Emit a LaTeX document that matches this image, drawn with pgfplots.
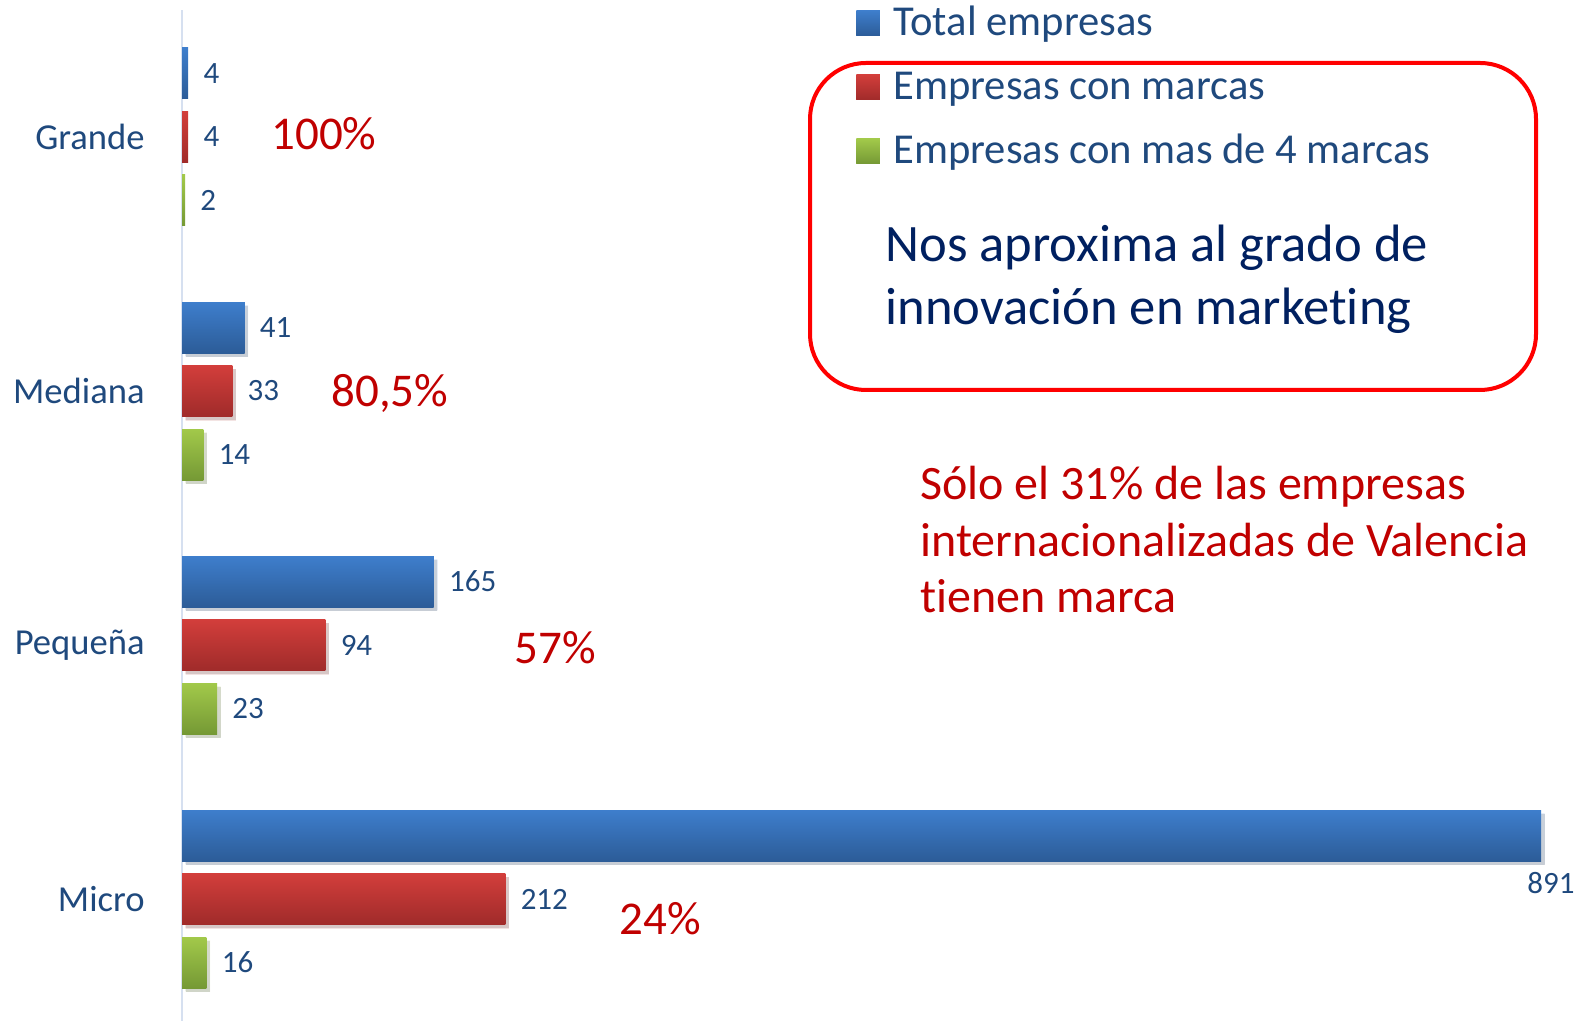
\documentclass[border=0pt]{standalone}
\usepackage{fontspec}
\setmainfont{Carlito}[Ligatures={NoCommon}]
\usepackage{pgfplots}
\pgfplotsset{compat=1.18}
\definecolor{bluetop}{RGB}{62,126,204}
\definecolor{bluebot}{RGB}{44,92,152}
\definecolor{redtop}{RGB}{210,62,59}
\definecolor{redbot}{RGB}{160,43,42}
\definecolor{greentop}{RGB}{162,201,74}
\definecolor{greenbot}{RGB}{117,153,53}
\definecolor{lblue}{RGB}{31,73,125}
\definecolor{dred}{RGB}{192,0,0}
\definecolor{navy}{RGB}{0,32,96}
\definecolor{axl}{RGB}{214,224,240}
\pgfplotsset{
  sh/.style={preaction={draw=none, fill=black, fill opacity=0.13, transform canvas={xshift=1.8pt, yshift=-1.8pt}}},
  bl/.style={draw=none, fill=bluetop, top color=bluetop, bottom color=bluebot, bar shift=31.75pt},
  rd/.style={draw=none, fill=redtop, top color=redtop, bottom color=redbot, bar shift=0pt},
  gr/.style={draw=none, fill=greentop, top color=greentop, bottom color=greenbot, bar shift=-31.75pt},
}
\begin{document}
\begin{tikzpicture}
\path[use as bounding box] (0,0) rectangle (796.5pt,510.5pt);
\begin{axis}[
  at={(91pt,0pt)}, anchor=south west,
  scale only axis, width=679.5pt, height=505.5pt,
  xbar, xmin=0, xmax=891, ymin=-0.48, ymax=3.5,
  bar width=25.5pt,
  axis x line=none, axis y line*=left,
  y axis line style={draw=axl, line width=1pt},
  ytick={0,1,2,3}, yticklabels={Micro,Pequeña,Mediana,Grande},
  major tick length=0pt, xtick=\empty,
  /pgf/number format/assume math mode=true,
  yticklabel style={font=\fontsize{18.3}{22}\selectfont, text=lblue, inner sep=0pt, xshift=-18.5pt},
  clip=false,
  nodes near coords,
  every node near coord/.append style={font=\fontsize{15.5}{18}\selectfont, text=lblue, anchor=west, inner sep=0pt, xshift=7.5pt},
  legend style={at={(0.496,0.9209)}, anchor=west, draw=none, fill=none, inner sep=0pt,
    font=\fontsize{21.3}{25}\selectfont, text=lblue, row sep=13.5pt,
    nodes={inner sep=0pt, text height=14pt, text depth=4.5pt}},
  legend cell align=left,
  legend image code/.code={\fill[draw=none, #1] (0pt,-4.9pt) rectangle (11.7pt,7.6pt); \path (18.5pt,0pt);},
]
% Grande (legend entries)
\addplot[bl] coordinates {(4,3)};
\addlegendentry{Total empresas}
\addplot[rd] coordinates {(4,3)};
\addlegendentry{Empresas con marcas}
\addplot[gr] coordinates {(2,3)};
\addlegendentry{Empresas con mas de 4 marcas}
% Mediana
\addplot[bl, sh, forget plot] coordinates {(41,2)};
\addplot[rd, sh, forget plot] coordinates {(33,2)};
\addplot[gr, sh, forget plot] coordinates {(14,2)};
% Pequeña
\addplot[bl, sh, forget plot] coordinates {(165,1)};
\addplot[rd, sh, forget plot] coordinates {(94,1)};
\addplot[gr, sh, forget plot] coordinates {(23,1)};
% Micro
\addplot[bl, sh, forget plot,
  every node near coord/.append style={anchor=north, xshift=-2.5pt, yshift=-18pt}]
  coordinates {(891,0)};
\addplot[rd, sh, forget plot] coordinates {(212,0)};
\addplot[gr, sh, forget plot] coordinates {(16,0)};
\end{axis}
\draw[draw=red, line width=2pt, rounded corners=28pt] (405pt,315.5pt) rectangle (768pt,479pt);
\begin{scope}[every node/.style={inner sep=0pt, anchor=base west}]
\node[font=\fontsize{26.3}{31}\selectfont, text=navy] at (442.5pt,379.5pt) {Nos aproxima al grado de};
\node[font=\fontsize{26.3}{31}\selectfont, text=navy] at (442.5pt,348pt) {innovación en marketing};
\node[font=\fontsize{24}{28}\selectfont, text=dred] at (460pt,260.5pt) {Sólo el 31\% de las empresas};
\node[font=\fontsize{24}{28}\selectfont, text=dred] at (460pt,232pt) {internacionalizadas de Valencia};
\node[font=\fontsize{24}{28}\selectfont, text=dred] at (460pt,204pt) {tienen marca};
\node[font=\fontsize{23.5}{28}\selectfont, text=dred] at (135.5pt,435.5pt) {100\%};
\node[font=\fontsize{23.5}{28}\selectfont, text=dred] at (165.5pt,307pt) {80,5\%};
\node[font=\fontsize{23.5}{28}\selectfont, text=dred] at (257pt,178.5pt) {57\%};
\node[font=\fontsize{23.5}{28}\selectfont, text=dred] at (309.5pt,43pt) {24\%};
\end{scope}
\end{tikzpicture}
\end{document}
